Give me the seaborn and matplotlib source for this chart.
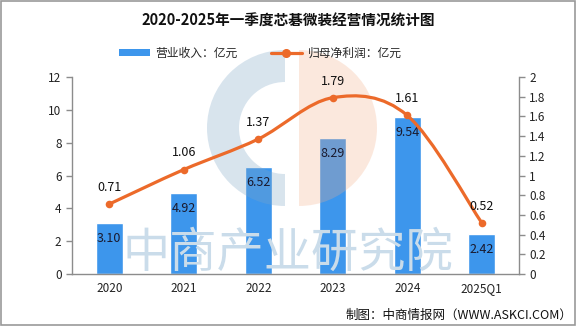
import numpy as np
import pandas as pd
import matplotlib
matplotlib.use("Agg")
import matplotlib.pyplot as plt
import seaborn as sns
from matplotlib.path import Path
from matplotlib.patches import PathPatch, Wedge, Rectangle, Patch
from matplotlib.lines import Line2D
from matplotlib.transforms import IdentityTransform
from matplotlib.ticker import FuncFormatter, FixedLocator

# ---- data ----
years = ["2020", "2021", "2022", "2023", "2024", "2025Q1"]
revenue = [3.10, 4.92, 6.52, 8.29, 9.54, 2.42]
profit = [0.71, 1.06, 1.37, 1.79, 1.61, 0.52]
left_ticks = [0, 2, 4, 6, 8, 10, 12]
right_ticks = [0, 0.2, 0.4, 0.6, 0.8, 1.0, 1.2, 1.4, 1.6, 1.8, 2.0]
title = "2020-2025年一季度芯碁微装经营情况统计图"
legend_labels = ["营业收入：亿元", "归母净利润：亿元"]
source = "制图：中商情报网（WWW.ASKCI.COM）"
watermark = "中商产业研究院"

BLUE = "#3d96ec"
ORANGE = "#ec6a2a"
GRAY = "#8c8c8c"

sns.set_theme(style="white")
plt.rcParams["font.family"] = ["Noto Sans CJK SC", "DejaVu Sans"]

fig = plt.figure(figsize=(5.76, 3.26), dpi=100)
ax = fig.add_axes([0.125, 0.1595, 0.776, 0.6043])

df = pd.DataFrame({"year": years, "revenue": revenue, "profit": profit})
sns.barplot(data=df, x="year", y="revenue", color=BLUE, saturation=1,
            width=0.36, ax=ax, zorder=2)

# text watermark (behind bars)
fig.text(0.499, 0.222, watermark, ha="center", va="center", fontsize=34,
         color="#cadcea", zorder=0.5, fontweight="normal")

n = len(years)
xpos = np.arange(n)
ax.set_xlim(-0.5, n - 0.5)
ax.set_ylim(0, 12)
ax.yaxis.set_major_locator(FixedLocator(left_ticks))
ax.set_xlabel("")
ax.set_ylabel("")
ax.set_xticks(xpos)
ax.set_xticklabels(years)
ax.set_xticks(np.arange(n + 1) - 0.5, minor=True)
ax.tick_params(axis="x", which="major", length=0, pad=6, labelsize=8.5, colors="#222222")
ax.tick_params(axis="x", which="minor", length=5, width=1, color=GRAY, direction="out")
ax.tick_params(axis="y", length=4, width=1, color=GRAY, direction="out",
               labelsize=8.5, labelcolor="#222222", left=True)
for s in ["top", "right"]:
    ax.spines[s].set_visible(False)
for s in ["left", "bottom"]:
    ax.spines[s].set_color(GRAY)
    ax.spines[s].set_linewidth(1)

for i, v in enumerate(revenue):
    ax.annotate(f"{v:.2f}", (i, v), xytext=(0, -11), textcoords="offset points",
                ha="center", va="center", fontsize=9, color="#1a1a2e", zorder=4)

# logo watermark (over bars, under line)
cx, cy, r = 289, 326 - 128, 78
ax.add_artist(Wedge((cx - 4, cy), r, 90, 270, width=32, transform=IdentityTransform(),
                    facecolor="#7fa6c6", alpha=0.3, edgecolor="none", zorder=3, clip_on=False))
ax.add_artist(Wedge((cx + 10, cy), r, -90, 90, transform=IdentityTransform(),
                    facecolor="#f4ae88", alpha=0.28, edgecolor="none", zorder=3, clip_on=False))

# ---- right axis: smooth line ----
ax2 = ax.twinx()
ax2.set_ylim(0, 2)
ys = np.array(profit, dtype=float)
xs = xpos.astype(float)
verts = [(xs[0], ys[0])]
codes = [Path.MOVETO]
for i in range(n - 1):
    p0 = np.array([xs[max(i - 1, 0)], ys[max(i - 1, 0)]])
    p1 = np.array([xs[i], ys[i]])
    p2 = np.array([xs[i + 1], ys[i + 1]])
    p3 = np.array([xs[min(i + 2, n - 1)], ys[min(i + 2, n - 1)]])
    c1 = p1 + (p2 - p0) / 6.0
    c2 = p2 - (p3 - p1) / 6.0
    verts += [tuple(c1), tuple(c2), tuple(p2)]
    codes += [Path.CURVE4] * 3
ax2.add_patch(PathPatch(Path(verts, codes), fill=False, edgecolor=ORANGE, lw=2.3,
                        capstyle="round", zorder=3))
sns.scatterplot(x=xs, y=ys, ax=ax2, color=ORANGE, s=30, edgecolor=ORANGE,
                linewidth=0, zorder=4, legend=False)
for i, v in enumerate(profit):
    ax2.annotate(f"{v:.2f}", (i, v), xytext=(0, 12), textcoords="offset points",
                 ha="center", va="center", fontsize=9, color="#111111", zorder=5)
ax2.set_xlim(-0.5, n - 0.5)
ax2.yaxis.set_major_locator(FixedLocator(right_ticks))
ax2.yaxis.set_major_formatter(FuncFormatter(lambda v, p: f"{v:g}"))
ax2.tick_params(axis="y", length=4, width=1, color=GRAY, direction="out",
                labelsize=8.5, labelcolor="#222222", right=True)
for s in ["top", "left", "bottom"]:
    ax2.spines[s].set_visible(False)
ax2.spines["right"].set_color(GRAY)
ax2.spines["right"].set_linewidth(1)
ax2.grid(False)
ax.grid(False)

# ---- title, legend, source ----
fig.text(0.5, 0.938, title, ha="center", va="center", fontsize=10.5,
         fontweight="bold", color="#111111")
handles = [Patch(facecolor=BLUE, edgecolor="none"),
           Line2D([0], [0], color=ORANGE, lw=2.3, marker="o", markersize=5.5)]
fig.legend(handles, legend_labels, loc="center", bbox_to_anchor=(0.452, 0.837),
           ncol=2, frameon=False, fontsize=8.5, handlelength=2.6, handleheight=0.6,
           columnspacing=2.8, handletextpad=0.5)
fig.text(0.993, 0.034, source, ha="right", va="center", fontsize=9, color="#111111")

fig.add_artist(Rectangle((0.001, 0.002), 0.998, 0.996, transform=fig.transFigure,
                         fill=False, edgecolor="#999999", lw=1.2))

fig.savefig("out.png", dpi=100)
